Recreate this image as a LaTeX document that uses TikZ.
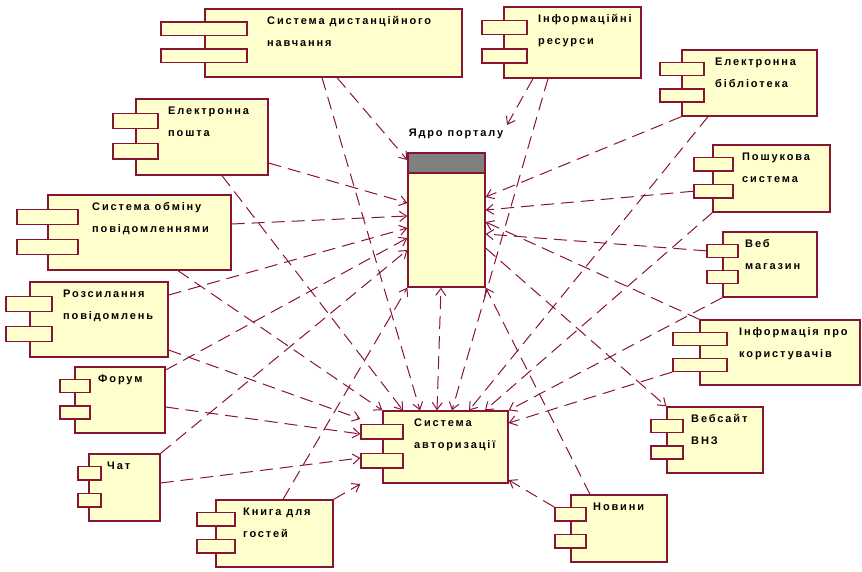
\documentclass[tikz,border=0pt]{standalone}
\usepackage{fontspec}
\setmainfont{Liberation Sans}[LetterSpace=17]
\usetikzlibrary{arrows.meta,fit}

\begin{document}
\begin{tikzpicture}[x=1pt, y=-1pt, >={Straight Barb[length=7pt,width=10pt]},
  font=\fontsize{11}{22}\selectfont\bfseries,
  box/.style={draw=roseLine, fill=compFill, line width=1.3pt, inner sep=0pt},
  dep/.style={->, roseLine, line width=1pt, dash pattern=on 13pt off 7pt},
  lbl/.style={anchor=north west, align=left, inner sep=0pt}]

  \definecolor{roseLine}{RGB}{135,20,50}
  \definecolor{compFill}{RGB}{255,255,206}
  \definecolor{coreHead}{RGB}{128,128,128}

\useasboundingbox (0,0) rectangle (862,571);

% components: name/left/top/right/bottom/tab left/tab right/text x/text
\foreach \nm/\xl/\yt/\xr/\yb/\tl/\tr/\tx/\txt in {
    dist/205/9/462/77/161/247/267/{Система дистанційного\\навчання},
    info/504/7/641/78/482/527/538/{Інформаційні\\ресурси},
    elib/682/50/817/116/660/704/715/{Електронна\\бібліотека},
    search/713/145/830/212/694/733/742/{Пошукова\\система},
    shop/723/232/817/297/707/738/745/{Веб\\магазин},
    users/700/320/860/385/673/727/739/{Інформація про\\користувачів},
    site/667/407/763/473/651/683/691/{Вебсайт\\ВНЗ},
    news/571/495/667/562/555/586/593/{Новини},
    guest/216/500/333/567/197/235/243/{Книга для\\гостей},
    chat/89/454/160/521/78/101/107/{Чат},
    forum/75/367/165/433/60/90/98/{Форум},
    mail/30/282/168/357/6/52/63/{Розсилання\\повідомлень},
    msg/48/195/231/270/17/78/92/{Система обміну\\повідомленнями},
    email/136/99/268/175/113/158/168/{Електронна\\пошта},
    auth/383/411/508/483/361/403/414/{Система\\авторизації}}
{
  \pgfmathsetmacro\tya{\yt+0.19*(\yb-\yt)}
  \pgfmathsetmacro\tyb{\yt+0.39*(\yb-\yt)}
  \pgfmathsetmacro\tyc{\yt+0.59*(\yb-\yt)}
  \pgfmathsetmacro\tyd{\yt+0.79*(\yb-\yt)}
  \node[box, fit={(\xl,\yt) (\xr,\yb)}] (\nm) {};
  \node[box, fit={(\tl,\tya) (\tr,\tyb)}] (\nm-t1) {};
  \node[box, fit={(\tl,\tyc) (\tr,\tyd)}] (\nm-t2) {};
  \node[lbl] (\nm-txt) at (\tx,\yt+6) {\rule{0pt}{9pt}\txt};
}

% the portal core
\node[box, fit={(408,153) (485,287)}] (core) {};
\node[box, fill=coreHead, fit={(408,153) (485,173)}] (corehead) {};
\node (corelbl) at (456,134) {Ядро порталу};
\coordinate (coretag) at (507,125);

% dependencies on the core
\draw[dep] (dist.south -| 337,0) -- (core.west |- 0,160);
\draw[dep] (email.east |- 0,163) -- (core.west |- 0,203);
\draw[dep] (msg.east |- 0,224) -- (core.west |- 0,216);
\draw[dep] (mail.east |- 0,295) -- (core.west |- 0,228);
\draw[dep] (forum.east |- 0,370) -- (core.west |- 0,238);
\draw[dep] (chat.north east) -- (core.west |- 0,250);
\draw[dep] (guest.north -| 283,0) -- (core.south west);
\draw[dep] (info.south -| 533,0) -- (coretag);
\draw[dep] (elib.south west) -- (core.east |- 0,197);
\draw[dep] (search-t2.west) -- (core.east |- 0,210);
\draw[dep] (users.north west) -- (core.east |- 0,222);
\draw[dep] (shop-t1.west) -- (core.east |- 0,234);
\draw[dep] (news.north -| 590,0) -- (core.south east);
\draw[dep, <->] (auth.north -| 437,0) -- (core.south -| 441,0);
\draw[dep] (core.east |- 0,248) -- (site.north west);

% dependencies on the authorisation
\draw[dep] (dist.south -| 322,0) -- (auth.north -| 420,0);
\draw[dep] (email.south -| 222,0) -- (auth.north -| 403,0);
\draw[dep] (msg.south -| 178,0) -- (auth.north west);
\draw[dep] (mail.east |- 0,350) -- (auth-t1.west |- 0,419);
\draw[dep] (forum.east |- 0,407) -- (auth-t1.west |- 0,434);
\draw[dep] (chat.east |- 0,483) -- (auth-t2.west |- 0,458);
\draw[dep] (guest.north east) -- (auth-t2.west |- 0,484);
\draw[dep] (info.south -| 548,0) -- (auth.north -| 452,0);
\draw[dep] (elib.south -| 708,0) -- (auth.north -| 469,0);
\draw[dep] (search.south west) -- (auth.north -| 485,0);
\draw[dep] (shop.south west) -- (auth.north east);
\draw[dep] (users-t2.south west) -- (auth.east |- 0,423);
\draw[dep] (news-t1.north west) -- (auth.east |- 0,480);

\end{tikzpicture}
\end{document}
